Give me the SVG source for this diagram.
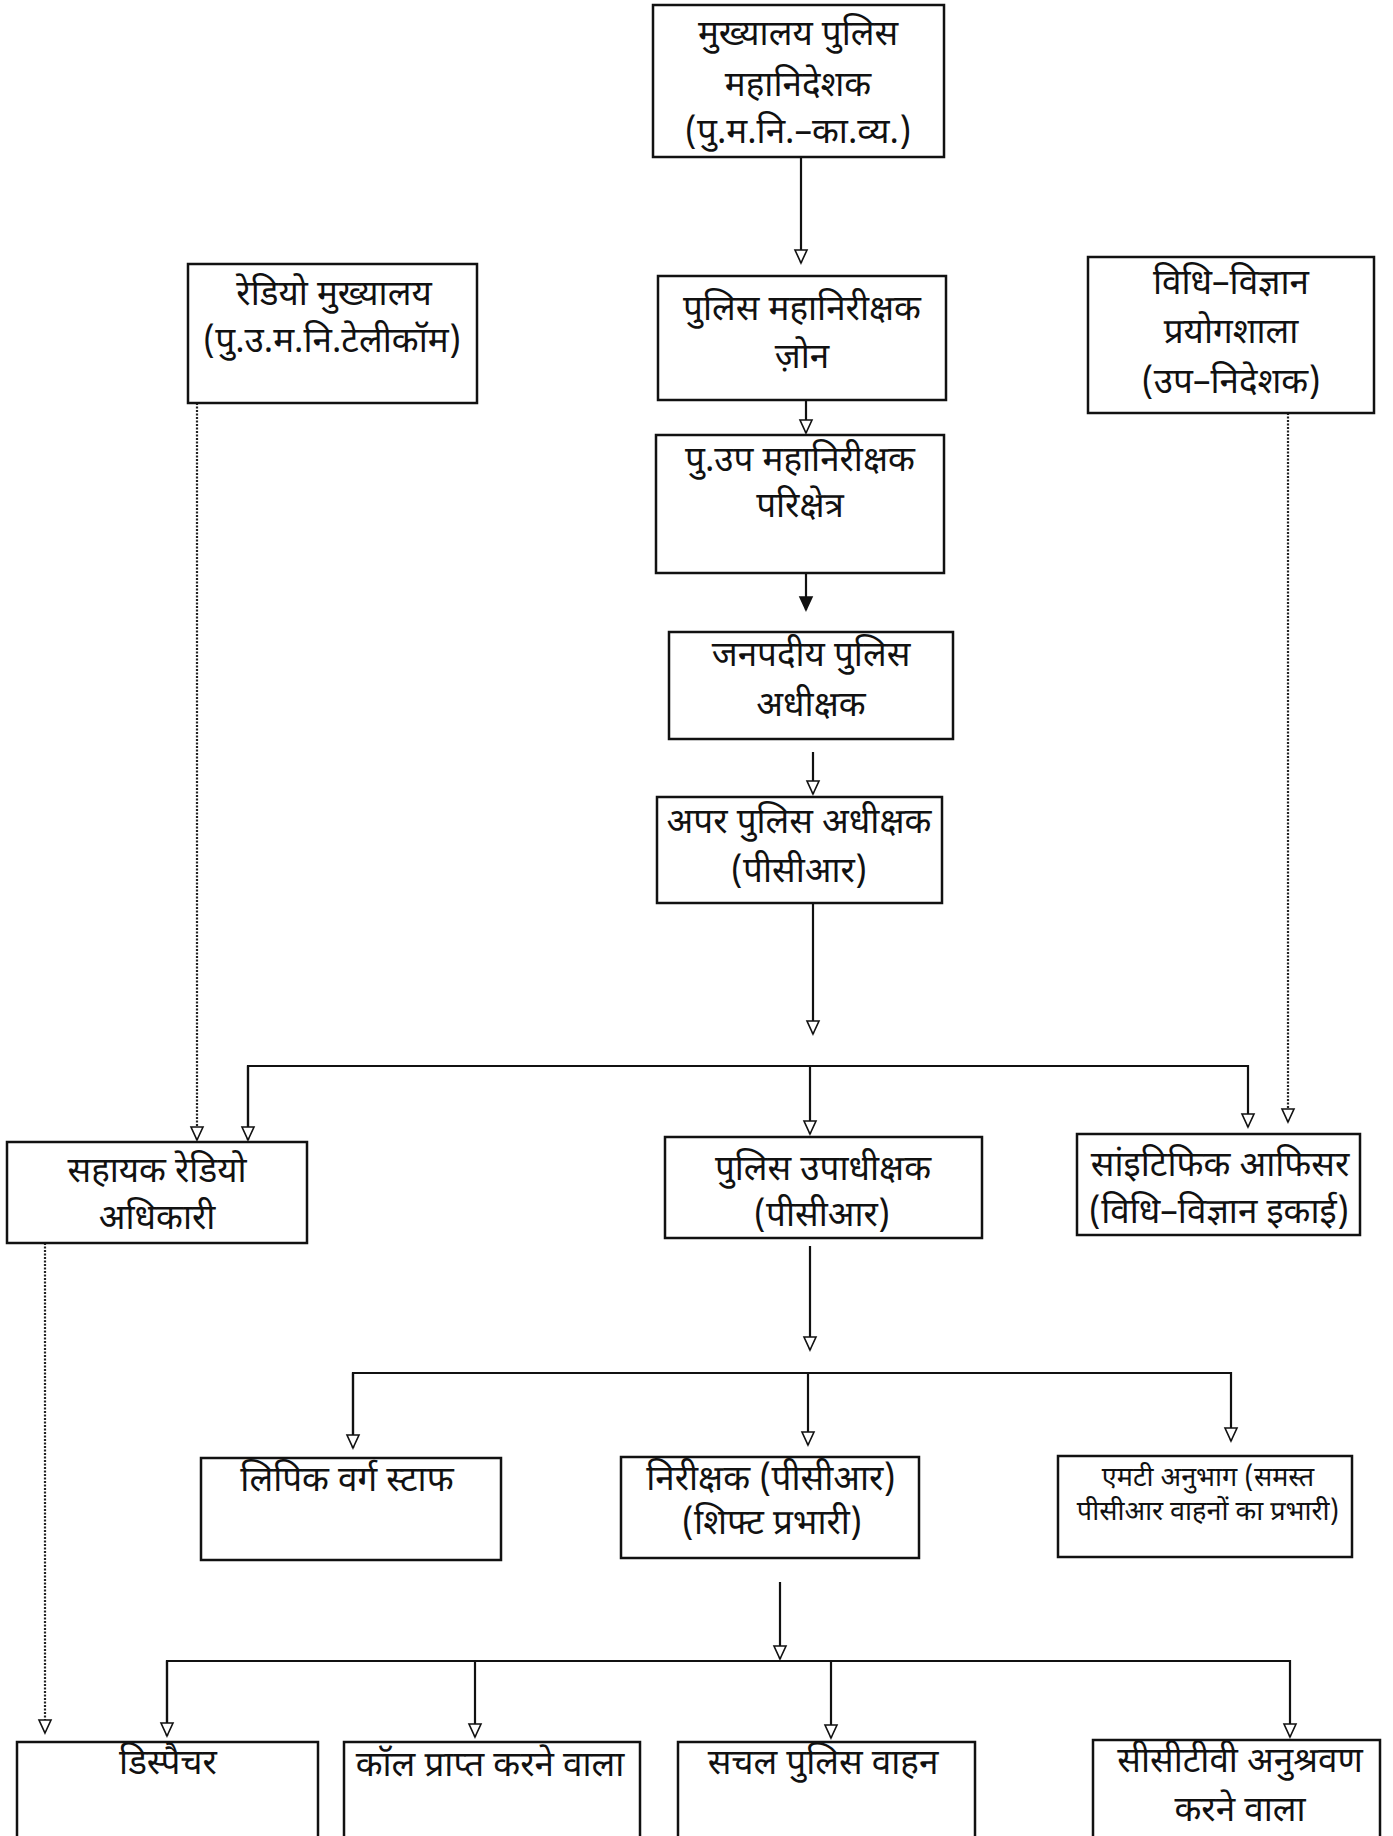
<svg xmlns="http://www.w3.org/2000/svg" width="1393" height="1836" viewBox="0 0 1393 1836">
<defs>
<style>
.box{fill:#fff;stroke:#111;stroke-width:2.5}
.t{font-family:"Noto Sans Devanagari","Noto Sans","Lohit Devanagari",sans-serif;font-size:35px;fill:#111;text-anchor:middle}
.s{font-size:27px}
.ln{fill:none;stroke:#111;stroke-width:2.2}
.dt{fill:none;stroke:#222;stroke-width:2.2;stroke-dasharray:2 1.5}
</style>
<marker id="ao" markerUnits="userSpaceOnUse" viewBox="-15 -8 17 16" refX="0" refY="0" markerWidth="17" markerHeight="16" orient="auto" overflow="visible">
<path d="M0,0 L-13,-6 L-13,6 Z" fill="#fff" stroke="#111" stroke-width="1.6" stroke-linejoin="miter"/>
</marker>
<marker id="af" markerUnits="userSpaceOnUse" viewBox="-15 -8 17 16" refX="0" refY="0" markerWidth="17" markerHeight="16" orient="auto" overflow="visible">
<path d="M0,0 L-13,-6 L-13,6 Z" fill="#111" stroke="#111" stroke-width="1.6"/>
</marker>
</defs>
<rect width="1393" height="1836" fill="#fff"/>
<g id="connectors">
<line class="ln" x1="801" y1="157" x2="801" y2="263" marker-end="url(#ao)"/>
<line class="ln" x1="806" y1="400" x2="806" y2="433" marker-end="url(#ao)"/>
<line class="ln" x1="806" y1="573" x2="806" y2="610" marker-end="url(#af)"/>
<line class="ln" x1="813" y1="752" x2="813" y2="794" marker-end="url(#ao)"/>
<line class="ln" x1="813" y1="903" x2="813" y2="1034" marker-end="url(#ao)"/>
<polyline class="ln" points="248,1140 248,1066 1248,1066 1248,1127" marker-end="url(#ao)"/>
<line class="ln" x1="248" y1="1066" x2="248" y2="1140" marker-end="url(#ao)"/>
<line class="ln" x1="810" y1="1066" x2="810" y2="1134" marker-end="url(#ao)"/>
<line class="dt" x1="197" y1="403" x2="197" y2="1140" marker-end="url(#ao)"/>
<line class="dt" x1="1288" y1="413" x2="1288" y2="1122" marker-end="url(#ao)"/>
<line class="ln" x1="810" y1="1246" x2="810" y2="1350" marker-end="url(#ao)"/>
<polyline class="ln" points="353,1448 353,1373 1231,1373 1231,1441" marker-end="url(#ao)"/>
<line class="ln" x1="353" y1="1373" x2="353" y2="1448" marker-end="url(#ao)"/>
<line class="ln" x1="808" y1="1373" x2="808" y2="1445" marker-end="url(#ao)"/>
<line class="ln" x1="780" y1="1582" x2="780" y2="1659" marker-end="url(#ao)"/>
<polyline class="ln" points="167,1736 167,1661 1290,1661 1290,1737" marker-end="url(#ao)"/>
<line class="ln" x1="167" y1="1661" x2="167" y2="1736" marker-end="url(#ao)"/>
<line class="ln" x1="475" y1="1661" x2="475" y2="1737" marker-end="url(#ao)"/>
<line class="ln" x1="831" y1="1661" x2="831" y2="1738" marker-end="url(#ao)"/>
<line class="dt" x1="45" y1="1243" x2="45" y2="1733" marker-end="url(#ao)"/>
</g>
<g id="n1"><rect class="box" x="653" y="5" width="291" height="152"/>
<text class="t" x="798" y="45">मुख्यालय पुलिस</text><text class="t" x="798" y="96">महानिदेशक</text><text class="t" x="798" y="143">(पु.म.नि.–का.व्य.)</text></g>
<g id="n2"><rect class="box" x="188" y="264" width="289" height="139"/>
<text class="t" x="334" y="305">रेडियो मुख्यालय</text><text class="t" x="332" y="352">(पु.उ.म.नि.टेलीकॉम)</text></g>
<g id="n3"><rect class="box" x="1088" y="257" width="286" height="156"/>
<text class="t" x="1231" y="294">विधि–विज्ञान</text><text class="t" x="1231" y="343">प्रयोगशाला</text><text class="t" x="1231" y="393">(उप–निदेशक)</text></g>
<g id="n4"><rect class="box" x="658" y="276" width="288" height="124"/>
<text class="t" x="802" y="320">पुलिस महानिरीक्षक</text><text class="t" x="802" y="368">ज़ोन</text></g>
<g id="n5"><rect class="box" x="656" y="435" width="288" height="138"/>
<text class="t" x="800" y="471">पु.उप महानिरीक्षक</text><text class="t" x="800" y="517">परिक्षेत्र</text></g>
<g id="n6"><rect class="box" x="669" y="632" width="284" height="107"/>
<text class="t" x="811" y="666">जनपदीय पुलिस</text><text class="t" x="811" y="716">अधीक्षक</text></g>
<g id="n7"><rect class="box" x="657" y="797" width="285" height="106"/>
<text class="t" x="799" y="833">अपर पुलिस अधीक्षक</text><text class="t" x="799" y="882">(पीसीआर)</text></g>
<g id="n8"><rect class="box" x="7" y="1142" width="300" height="101"/>
<text class="t" x="157" y="1182">सहायक रेडियो</text><text class="t" x="157" y="1229">अधिकारी</text></g>
<g id="n9"><rect class="box" x="665" y="1137" width="317" height="101"/>
<text class="t" x="823" y="1180">पुलिस उपाधीक्षक</text><text class="t" x="822" y="1226">(पीसीआर)</text></g>
<g id="n10"><rect class="box" x="1077" y="1134" width="283" height="101"/>
<text class="t" x="1220" y="1176">सांइटिफिक आफिसर</text><text class="t" x="1219" y="1223">(विधि–विज्ञान इकाई)</text></g>
<g id="n11"><rect class="box" x="201" y="1458" width="300" height="102"/>
<text class="t" x="347" y="1491">लिपिक वर्ग स्टाफ</text></g>
<g id="n12"><rect class="box" x="621" y="1457" width="298" height="101"/>
<text class="t" x="771" y="1490">निरीक्षक (पीसीआर)</text><text class="t" x="772" y="1534">(शिफ्ट प्रभारी)</text></g>
<g id="n13"><rect class="box" x="1058" y="1456" width="294" height="101"/>
<text class="t s" x="1208" y="1486">एमटी अनुभाग (समस्त</text><text class="t s" x="1208" y="1520">पीसीआर वाहनों का प्रभारी)</text></g>
<g id="n14"><rect class="box" x="17" y="1742" width="301" height="110"/>
<text class="t" x="168" y="1774">डिस्पैचर</text></g>
<g id="n15"><rect class="box" x="344" y="1742" width="296" height="110"/>
<text class="t" x="490" y="1776">कॉल प्राप्त करने वाला</text></g>
<g id="n16"><rect class="box" x="678" y="1742" width="297" height="110"/>
<text class="t" x="823" y="1774">सचल पुलिस वाहन</text></g>
<g id="n17"><rect class="box" x="1093" y="1740" width="287" height="112"/>
<text class="t" x="1240" y="1772">सीसीटीवी अनुश्रवण</text><text class="t" x="1240" y="1821">करने वाला</text></g>
</svg>
